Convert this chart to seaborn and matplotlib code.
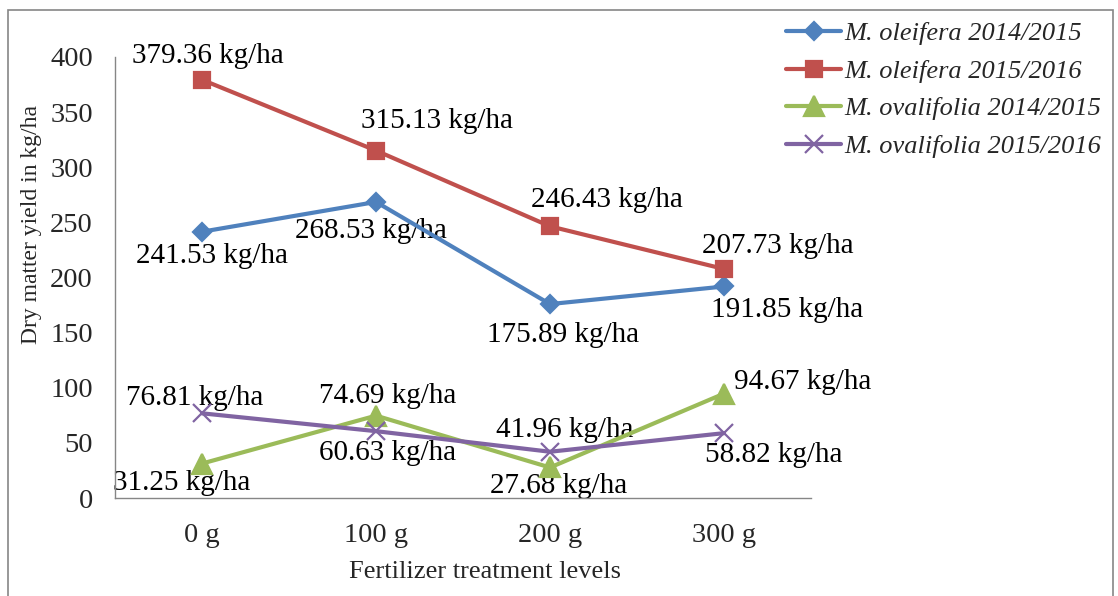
import matplotlib
matplotlib.use("Agg")
import matplotlib.pyplot as plt
import seaborn as sns
import pandas as pd
from matplotlib.patches import Rectangle

categories = ["0 g", "100 g", "200 g", "300 g"]
series_names = ["M. oleifera 2014/2015", "M. oleifera 2015/2016",
                "M. ovalifolia 2014/2015", "M. ovalifolia 2015/2016"]
oleifera_1415 = [241.53, 268.53, 175.89, 191.85]
oleifera_1516 = [379.36, 315.13, 246.43, 207.73]
ovalifolia_1415 = [31.25, 74.69, 27.68, 94.67]
ovalifolia_1516 = [76.81, 60.63, 41.96, 58.82]
yticks = [0, 50, 100, 150, 200, 250, 300, 350, 400]

values = [oleifera_1415, oleifera_1516, ovalifolia_1415, ovalifolia_1516]
colors = ["#4F81BD", "#C0504D", "#9BBB59", "#8064A2"]
markers = ["D", "s", "^", "x"]
msizes = [9.5, 12, 14, 13]
# label offsets (pixels) of text baseline-centre relative to each point
offsets = [
    [(10, -31), (-5, -36), (13, -38), (63, -31)],
    [(6, 17), (61, 23), (57, 19), (54, 16)],
    [(-20, -26), (12, 13), (9, -26), (79, 5)],
    [(-7, 8), (12, -29), (15, 15), (50, -29)],
]

sns.set_style("white")
plt.rcParams["font.family"] = ["Liberation Serif", "DejaVu Serif"]

fig = plt.figure(figsize=(11.18, 5.96), dpi=100)
ax = fig.add_axes([115 / 1118, 1 - 498 / 596, (811 - 115) / 1118, (498 - 57) / 596])

for i, name in enumerate(series_names):
    df = pd.DataFrame({"pos": range(len(categories)), "val": values[i]})
    sns.lineplot(data=df, x="pos", y="val", ax=ax, color=colors[i], lw=3,
                 marker=markers[i], markersize=msizes[i], markeredgecolor=colors[i],
                 markeredgewidth=1.6, label=name, zorder=3)
    for j, v in enumerate(values[i]):
        dx, dy = offsets[i][j]
        ax.annotate(f"{v:.2f} kg/ha", xy=(j, v), xytext=(dx, dy),
                    textcoords="offset pixels", ha="center", va="baseline",
                    fontsize=21, color="black", zorder=2)

ax.set_xlim(-0.5, 3.5)
ax.set_ylim(0, 400)
ax.set_xticks(range(len(categories)))
ax.set_xticklabels(categories)
ax.set_yticks(yticks)
ax.set_yticklabels([str(t) for t in yticks])
ax.tick_params(axis="both", length=0, labelsize=20.5)
ax.tick_params(axis="y", pad=16)
ax.tick_params(axis="x", pad=18)
ax.set_xlabel("")
ax.set_ylabel("")
for s in ["top", "right"]:
    ax.spines[s].set_visible(False)
for s in ["left", "bottom"]:
    ax.spines[s].set_color("#868686")
    ax.spines[s].set_linewidth(1.0)
ax.grid(False)

handles, labels = ax.get_legend_handles_labels()
ax.get_legend().remove()
fig.legend(handles, labels, loc="upper left", bbox_to_anchor=(786 / 1118, 1 - 22 / 596),
           frameon=False, prop={"family": "Liberation Serif", "style": "italic", "size": 19},
           handlelength=2.1, handletextpad=0.12, labelspacing=0.53, borderpad=0,
           borderaxespad=0)

fig.text(485 / 1118, 1 - 578 / 596, "Fertilizer treatment levels", ha="center",
         va="baseline", fontsize=19)
fig.text(32 / 1118, 1 - 224 / 596, "Dry matter yield in kg/ha", ha="center",
         va="center", rotation=90, fontsize=17)

fig.patches.append(Rectangle((8 / 1118, -0.05), (1113 - 8) / 1118, 0.05 + 1 - 10 / 596,
                             transform=fig.transFigure, fill=False,
                             edgecolor="#868686", linewidth=1.2))

fig.savefig("out.png", dpi=100)
